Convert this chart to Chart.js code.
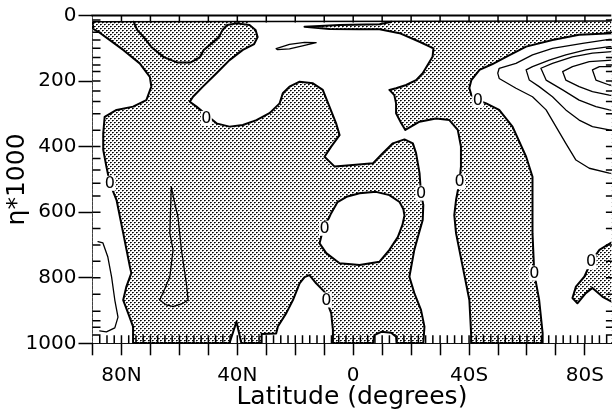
<!DOCTYPE html>
<html><head><meta charset="utf-8">
<script src="https://cdn.jsdelivr.net/npm/chart.js@4"></script>
<style>
html,body{margin:0;padding:0;background:#fff;overflow:hidden;}
#wrap{position:relative;width:612px;height:413px;}
</style></head><body>
<div id="wrap"><canvas id="c" width="612" height="413"></canvas></div>
<script>
// ---- axes / ticks ----
const XTICKS = [90,80,70,60,50,40,30,20,10,0,-10,-20,-30,-40,-50,-60,-70,-80];
const XLABELS = {'80':'80N','40':'40N','0':'0','-40':'40S','-80':'80S'};
const YTICKS = [0,200,400,600,800,1000];
const LEVELS = [14,51,75,100,128,151,171,200,230,262,300,350,400,436,471,512,551,600,650,700,750,800,850,902,931,951,975];
const LATGRID = [87.5,85,82.5,80,77.5,75,72.5,70,67.5,65,62.5,60,57.5,55,52.5,50,47.5,45,42.5,40,37.5,35,32.5,30,27.5,25,22.5,20,17.5,15,12.5,10,7.5,5,2.5,0,-2.5,-5,-7.5,-10,-12.5,-15,-17.5,-20,-22.5,-25,-27.5,-30,-32.5,-35,-37.5,-40,-42.5,-45,-47.5,-50,-52.5,-55,-57.5,-60,-62.5,-65,-67.5,-70,-72.5,-75,-77.5,-80,-82.5,-85,-87.5];
const TOPTICKS = [80,70,60,50,40,30,20,10,0,-10,-20,-30,-40,-50,-60,-70,-80];

// ---- contours [latitude, eta*1000] ----
const BOX = [[90,0],[-90,0],[-90,1000],[90,1000]];
const TOPLINE = [[90,19],[-90,17]];
// zero contour bounding the polar (left) region
const ZL = [[89.5,42],[88.1,49],[84.0,75],[79.4,105],[73.7,146],[70.2,187],[69.7,217],[71.4,258],[76.0,278],[81.7,288],[85.8,309],[86.3,360],[86.3,410],[85.2,461],[84.0,512],[81.7,563],[79.4,664],[77.1,766],[76.6,786],[78.3,827],[79.4,868],[77.7,908],[76.0,949],[76.0,1000]];
// upper bowl contour
const BOWL = [[75.8,19],[74.6,44],[72.3,66],[69.7,96],[65.4,127],[60.8,143],[56.1,143],[53.0,128],[51.6,105],[48.9,85],[46.4,66],[45.1,44],[43.5,29],[40.2,24],[35.8,29]];
// left / lower edge of the central positive region
const ZC = [[33.7,44],[33.0,66],[34.2,87],[38.1,105],[42.7,136],[47.2,176],[51.9,217],[55.3,248],[56.4,263],[54.1,278],[47.2,329],[42.7,339],[38.1,334],[33.4,319],[28.9,298],[25.4,268],[24.3,237],[22.0,217],[18.5,202],[13.9,207],[10.5,227],[8.2,278],[5.9,329],[4.7,365],[7.6,400],[9.9,431],[6.4,461],[0.1,456],[-6.8,451],[-10.2,420],[-13.7,390],[-17.7,378],[-20.6,390],[-21.7,420],[-22.9,481],[-23.4,542],[-24.2,578],[-24.0,624],[-22.5,670],[-21.1,715],[-19.4,797],[-21.1,847],[-23.4,898],[-24.6,949],[-24.2,1000]];
// right edge of the central positive region (with the thin tongue at the top)
const ZR = [[-13.2,19],[-9.1,27],[4.7,29],[16.8,34],[8.2,41],[-2.2,42],[-9.1,42],[-16.0,54],[-22.9,80],[-27.7,100],[-27.4,126],[-25.7,151],[-24.0,176],[-21.7,197],[-18.3,212],[-14.8,222],[-12.5,227],[-14.2,243],[-14.8,268],[-14.8,298],[-16.6,329],[-18.0,349],[-22.9,324],[-28.6,314],[-33.2,319],[-36.1,349],[-37.2,400],[-37.2,461],[-36.7,507],[-35.5,563],[-34.9,609],[-35.5,664],[-37.8,766],[-40.1,868],[-40.7,969],[-40.7,1000]];
// edge of the southern positive region
const ZE = [[-90,54],[-78.0,59],[-68.8,75],[-59.7,95],[-52.8,126],[-48.1,148],[-43.6,166],[-40.8,197],[-40.1,221],[-40.8,243],[-43.0,258],[-45.9,268],[-50.4,288],[-55.0,339],[-59.7,431],[-61.9,492],[-61.9,563],[-61.9,664],[-62.5,786],[-64.2,868],[-65.4,969],[-65.4,1000]];
// closed positive island
const W3 = [[7.6,603],[5.4,569],[2.3,553],[-2.2,542],[-7.9,538],[-12.5,548],[-16.0,569],[-17.3,590],[-17.7,610],[-17.0,639],[-15.4,676],[-12.5,715],[-9.1,751],[-2.2,761],[4.7,756],[9.3,725],[11.6,695],[10.9,670],[9.9,639],[8.5,620],[7.6,603]];
// positive patches along the surface
const W6 = [[31.6,1000],[31.6,972],[26.6,970],[26.0,949],[23.1,908],[20.8,868],[18.5,817],[16.8,798],[15.1,792],[12.8,817],[9.9,843],[9.3,868],[7.6,908],[7.0,959],[7.0,1000]];
const W7 = [[-6.8,1000],[-7.3,975],[-9.7,965],[-13.1,968],[-14.8,980],[-15.0,1000]];
const SPIKE = [[42.7,1000],[40.3,934],[38.6,1000]];
// negative island near the south pole
const SE = [[-90,688],[-85.0,715],[-82.1,752],[-79.8,797],[-76.9,827],[-75.7,862],[-77.4,878],[-80.3,847],[-82.6,831],[-86.1,858],[-90,877]];
// non-zero contours
const C60 = [[62.8,522],[63.3,664],[62.2,715],[63.3,797],[65.7,847],[66.8,868],[64.5,883],[62.2,888],[58.8,878],[57.0,868],[57.6,817],[59.3,715],[60.5,614],[61.6,573],[62.8,522]];
const TL1 = [[88.1,690],[86.4,694],[84.7,737],[83.4,798],[82.3,868],[81.2,920],[82.3,953],[85.2,965],[87.5,962]];
const LENS2 = [[26.6,101],[22.0,88],[16.8,82],[12.8,83],[17.5,93],[22.0,102],[26.1,104],[26.6,101]];
const C1 = [[-90,73],[-88.4,73],[-79.2,85],[-68.8,100],[-61.9,120],[-56.2,146],[-50.4,161],[-49.9,176],[-50.4,192],[-56.2,222],[-61.9,248],[-66.6,288],[-70.0,339],[-73.4,390],[-76.9,441],[-81.5,466],[-88.4,481],[-90,482]];
const C2 = [[-90,95],[-88.4,95],[-80.3,105],[-73.4,120],[-67.7,136],[-61.9,156],[-59.7,166],[-60.8,197],[-64.2,217],[-68.8,248],[-73.4,288],[-78.0,319],[-82.6,339],[-88.4,349],[-90,350]];
const C3 = [[-90,110],[-82.6,115],[-75.7,126],[-68.8,146],[-64.8,161],[-66.6,197],[-72.3,227],[-78.0,258],[-83.8,278],[-88.4,288],[-90,290]];
const C4 = [[-90,136],[-81.5,141],[-75.7,156],[-72.3,171],[-73.4,197],[-78.0,217],[-82.6,232],[-88.4,243],[-90,245]];
const C5 = [[-90,156],[-85.0,156],[-82.6,166],[-83.8,197],[-88.4,212],[-90,214]];
// "0" contour labels
const LABELS = [[50.7,314],[84.0,512],[9.9,649],[9.3,868],[-23.4,542],[-36.7,507],[-43.0,258],[-62.5,786],[-82.1,751]];

// ---- derived polygons ----
const WTOP = [[90,0],[-90,0],[-90,17]].concat(ZR, ZC.slice().reverse(), [[35.8,29],[35.8,19],[90,19]]);
const W1 = [[90,42]].concat(ZL, [[90,1000]]);
const W5 = ZE.concat([[-90,1000]]);

// ---- stipple pattern ----
const pc = document.createElement('canvas'); pc.width = 4; pc.height = 4;
const px = pc.getContext('2d');
px.fillStyle = '#000'; px.fillRect(0,0,1,1); px.fillRect(2,2,1,1);
px.fillStyle = '#444'; px.fillRect(1,0,1,1); px.fillRect(3,2,1,1);
px.fillStyle = '#aaa'; px.fillRect(0,1,1,1); px.fillRect(2,3,1,1);
const canvas = document.getElementById('c');
const STIP = canvas.getContext('2d').createPattern(pc, 'repeat');

const P = a => a.map(([x,y]) => ({x, y}));
const fillDs = (a, bg, order, bw) => ({data: P(a), fill: 'shape', backgroundColor: bg,
  borderColor: bw ? '#000' : 'rgba(0,0,0,0)', borderWidth: bw || 0, pointRadius: 0, tension: 0, order,
  borderJoinStyle: 'round'});
const lineDs = (a, w, order) => ({data: P(a), fill: false, borderColor: '#000', borderWidth: w,
  pointRadius: 0, tension: 0, order, borderJoinStyle: 'round', borderCapStyle: 'round'});

const datasets = [
  fillDs(BOX, STIP, 100),
  fillDs(WTOP, '#fff', 60),
  fillDs(W1, '#fff', 60),
  fillDs(W5, '#fff', 60),
  fillDs(W3, '#fff', 50, 2),
  fillDs(W6, '#fff', 50, 2),
  fillDs(W7, '#fff', 50, 2),
  fillDs(SPIKE, '#fff', 50, 2),
  fillDs(SE, STIP, 45, 2),
  lineDs(TOPLINE, 1.5, 10),
  lineDs(ZL, 2, 10),
  lineDs(BOWL.concat(ZC), 2, 10),
  lineDs(ZR, 2, 10),
  lineDs(ZE, 2, 10),
  lineDs(C60, 1.3, 10),
  lineDs(TL1, 1.3, 10),
  lineDs(LENS2, 1.3, 10),
  lineDs(C1, 1.3, 10),
  lineDs(C2, 1.3, 10),
  lineDs(C3, 1.3, 10),
  lineDs(C4, 1.3, 10),
  lineDs(C5, 1.3, 10)
];

const deco = {
  id: 'deco',
  afterDatasetsDraw(chart) {
    const {ctx, chartArea: a, scales: {x, y}} = chart;
    ctx.save();
    ctx.strokeStyle = '#000'; ctx.lineWidth = 1.5;
    ctx.beginPath();
    const xr = x.getPixelForValue(-90);
    LEVELS.concat(YTICKS.slice(1, -1)).forEach(v => {
      const py = y.getPixelForValue(v);
      ctx.moveTo(a.left, py); ctx.lineTo(a.left + 8, py);
      ctx.moveTo(xr, py); ctx.lineTo(xr - 8, py);
    });
    LATGRID.forEach(v => { const p = x.getPixelForValue(v); ctx.moveTo(p, a.bottom); ctx.lineTo(p, a.bottom - 8); });
    TOPTICKS.forEach(v => { const p = x.getPixelForValue(v); ctx.moveTo(p, a.top); ctx.lineTo(p, a.top + 7); });
    ctx.stroke();
    ctx.lineWidth = 2; ctx.beginPath(); ctx.moveTo(a.left - 1, a.top); ctx.lineTo(a.right, a.top); ctx.stroke();
    ctx.font = '16px "DejaVu Sans"'; ctx.textAlign = 'center'; ctx.textBaseline = 'middle';
    LABELS.forEach(([la, et]) => {
      const px = x.getPixelForValue(la), py = y.getPixelForValue(et);
      ctx.fillStyle = '#fff'; ctx.fillRect(px - 5.5, py - 7.5, 11, 15);
      ctx.fillStyle = '#000'; ctx.fillText('0', px, py + 0.5);
    });
    ctx.restore();
  }
};

new Chart(canvas, {
  type: 'line',
  data: {datasets},
  options: {
    responsive: false, animation: false, events: [],
    layout: {padding: {top: 15.5, right: 0, left: 0, bottom: 0}},
    plugins: {legend: {display: false}, tooltip: {enabled: false}},
    scales: {
      x: {
        type: 'linear', reverse: true, min: -89.1, max: 90, position: 'bottom', z: 1,
        afterBuildTicks: s => { s.ticks = XTICKS.map(v => ({value: v})); },
        afterFit: s => { s.height = 413 - 343.3; },
        ticks: {autoSkip: false, maxRotation: 0, minRotation: 0, padding: 8, color: '#000',
          font: {family: 'DejaVu Sans', size: 20},
          callback: v => XLABELS[String(v)] || ''},
        grid: {drawOnChartArea: false, drawTicks: true, tickLength: 12, tickWidth: 1.5, tickColor: '#000'},
        border: {display: true, color: '#000', width: 2},
        title: {display: true, text: 'Latitude (degrees)', color: '#000',
          font: {family: 'DejaVu Sans', size: 25}, padding: {top: 0, bottom: 1}}
      },
      y: {
        type: 'linear', reverse: true, min: 0, max: 1000, position: 'left', z: 1,
        afterBuildTicks: s => { s.ticks = YTICKS.map(v => ({value: v})); },
        afterFit: s => { s.width = 92.5; },
        ticks: {padding: 2, color: '#000', font: {family: 'DejaVu Sans', size: 20},
          callback: v => String(v)},
        grid: {drawOnChartArea: false, drawTicks: true, tickLength: 14, tickWidth: 1.5, tickColor: '#000'},
        border: {display: true, color: '#000', width: 2},
        title: {display: true, text: 'η*1000', color: '#000',
          font: {family: 'DejaVu Sans', size: 25}, padding: {top: 2, bottom: 0}}
      }
    }
  },
  plugins: [deco]
});
</script>
</body></html>
